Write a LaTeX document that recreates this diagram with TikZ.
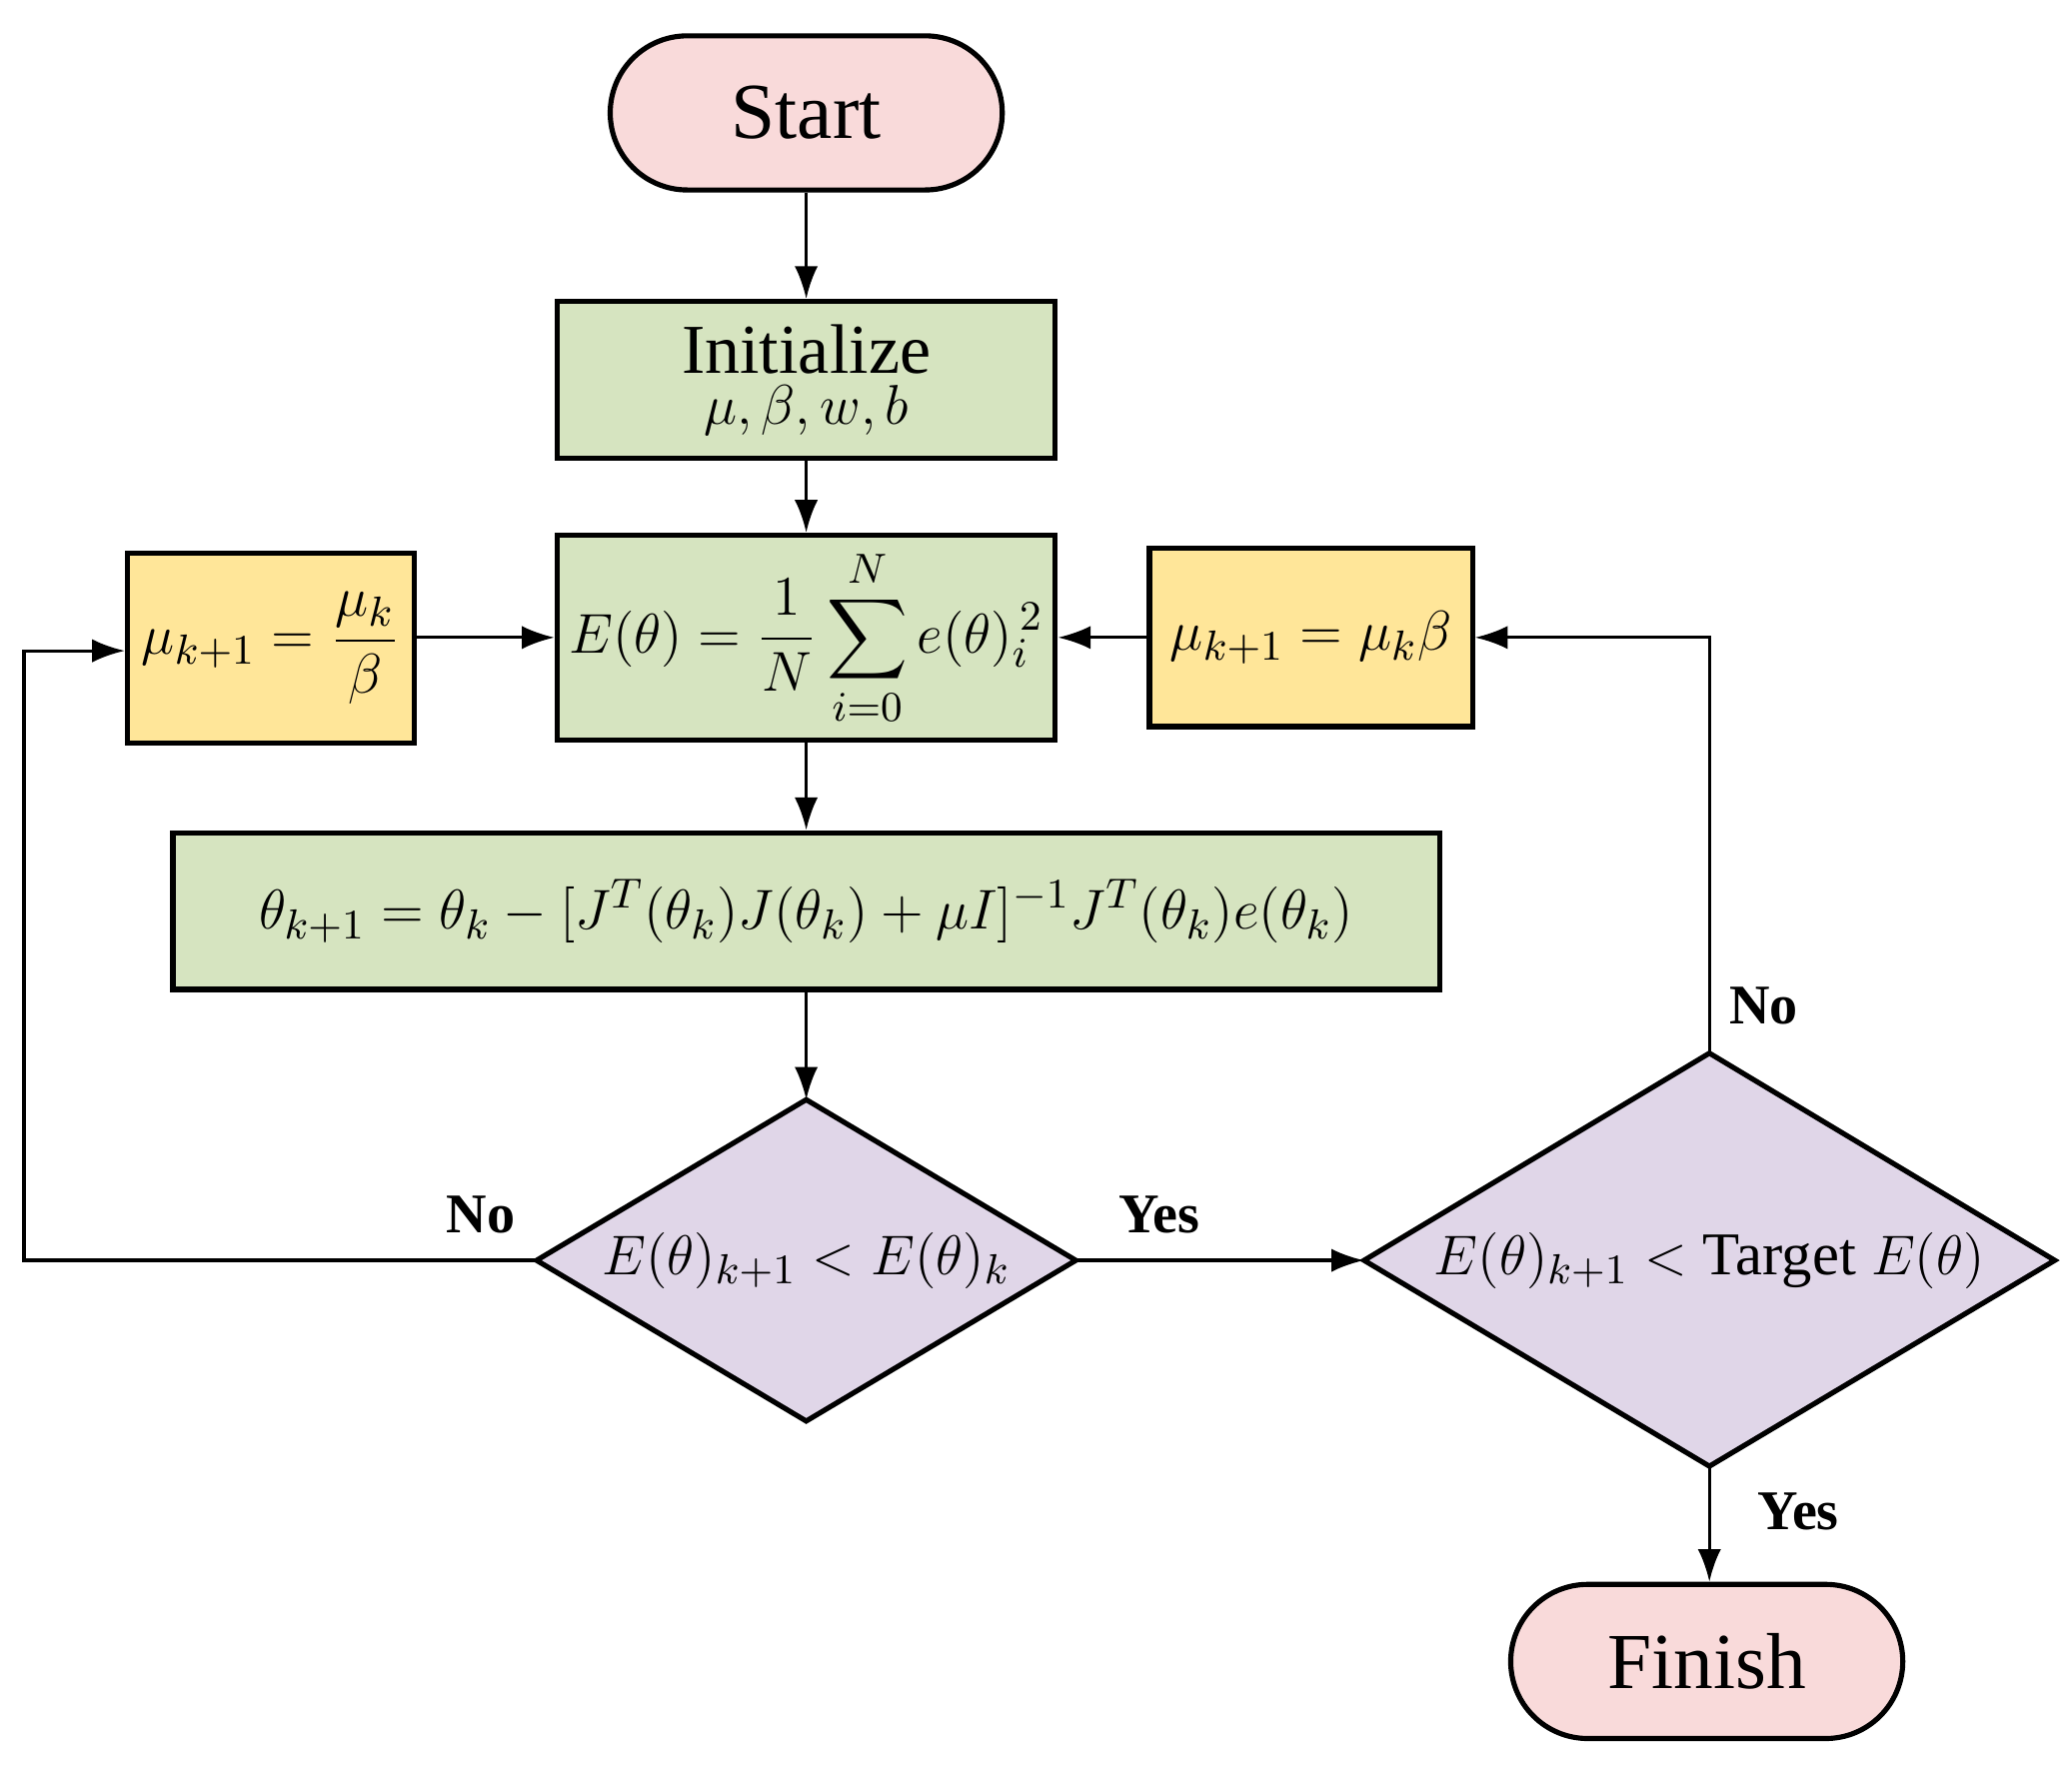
\documentclass[tikz,border=0pt]{standalone}
\usepackage{amsmath}
\usepackage{fontspec}
\setmainfont{Liberation Serif}
\usetikzlibrary{shapes.geometric,arrows.meta}
\definecolor{pinkf}{HTML}{F9DADA}
\definecolor{greenf}{HTML}{D6E4C0}
\definecolor{yellowf}{HTML}{FFE699}
\definecolor{purplef}{HTML}{E0D6E8}
\begin{document}
\begin{tikzpicture}[x=0.01cm,y=-0.01cm,
  line width=1.1pt,
  term/.style={draw,rounded corners=0.58cm,fill=pinkf,minimum width=2.95cm,minimum height=1.16cm,font=\fontsize{17}{19}\selectfont},
  gbox/.style={draw,fill=greenf,font=\fontsize{13}{13}\selectfont,inner sep=0pt},
  ybox/.style={draw,fill=yellowf,font=\fontsize{13}{13}\selectfont,inner sep=0pt},
  dia/.style={draw,fill=purplef},
  dtext/.style={font=\fontsize{13}{13}\selectfont,inner sep=0pt},
  arr/.style={-{Latex[length=7pt,width=5pt]},line width=0.7pt},
  lab/.style={font=\bfseries\fontsize{12}{12}\selectfont}]
\useasboundingbox (0,0) rectangle (1560,1330);
\node[term] (start) at (607,85) {Start};
\node[gbox,minimum width=3.75cm,minimum height=1.18cm,align=center] (init) at (607,286) {\fontsize{15}{15}\selectfont Initialize\\[-2pt]$\mu,\beta,w,b$};
\node[gbox,minimum width=3.75cm,minimum height=1.54cm] (E) at (607,480) {$E(\theta)=\dfrac{1}{N}\displaystyle\sum_{i=0}^{N}e(\theta)_i^{\,2}$};
\node[ybox,minimum width=2.16cm,minimum height=1.43cm] (yl) at (204,488) {$\mu_{k+1}=\dfrac{\mu_k}{\beta}$};
\node[ybox,minimum width=2.43cm,minimum height=1.34cm] (yr) at (987,480) {$\mu_{k+1}=\mu_k\beta$};
\node[gbox,minimum width=9.53cm,minimum height=1.18cm] (th) at (607,686) {$\theta_{k+1}=\theta_k-[J^T(\theta_k)J(\theta_k)+\mu I]^{-1}J^T(\theta_k)e(\theta_k)$};
% diamonds
\coordinate (d1n) at (607,828); \coordinate (d1s) at (607,1070);
\coordinate (d1w) at (404,949); \coordinate (d1e) at (810,949);
\draw[dia] (d1n) -- (d1e) -- (d1s) -- (d1w) -- cycle;
\node[dtext] (d1) at (607,949) {$E(\theta)_{k+1}<E(\theta)_k$};
\coordinate (d2n) at (1287,793); \coordinate (d2s) at (1287,1104);
\coordinate (d2w) at (1027,949); \coordinate (d2e) at (1547,949);
\draw[dia] (d2n) -- (d2e) -- (d2s) -- (d2w) -- cycle;
\node[dtext] (d2) at (1287,949) {$E(\theta)_{k+1}<\text{Target }E(\theta)$};
\node[term] (fin) at (1285,1251) {Finish};
\draw[arr] (start) -- (init);
\draw[arr] (init) -- (E);
\draw[arr] (E) -- (th);
\draw[arr] (th.south) -- (d1n);
\draw[arr] (d1e) -- (d2w);
\draw[arr] (d2s) -- (fin.north-|d2s);
\draw[arr] (d1w) -- (18,949) -- (18,490) -- (yl.west|-0,490);
\draw[arr] (yl.east|-0,480) -- (E.west|-0,480);
\draw[arr] (d2n) -- (1287,480) -- (yr.east);
\draw[arr] (yr.west) -- (E.east|-0,480);
\node[lab] at (362,915) {No};
\node[lab] at (873,915) {Yes};
\node[lab] at (1328,757) {No};
\node[lab] at (1354,1138) {Yes};
\end{tikzpicture}
\end{document}
